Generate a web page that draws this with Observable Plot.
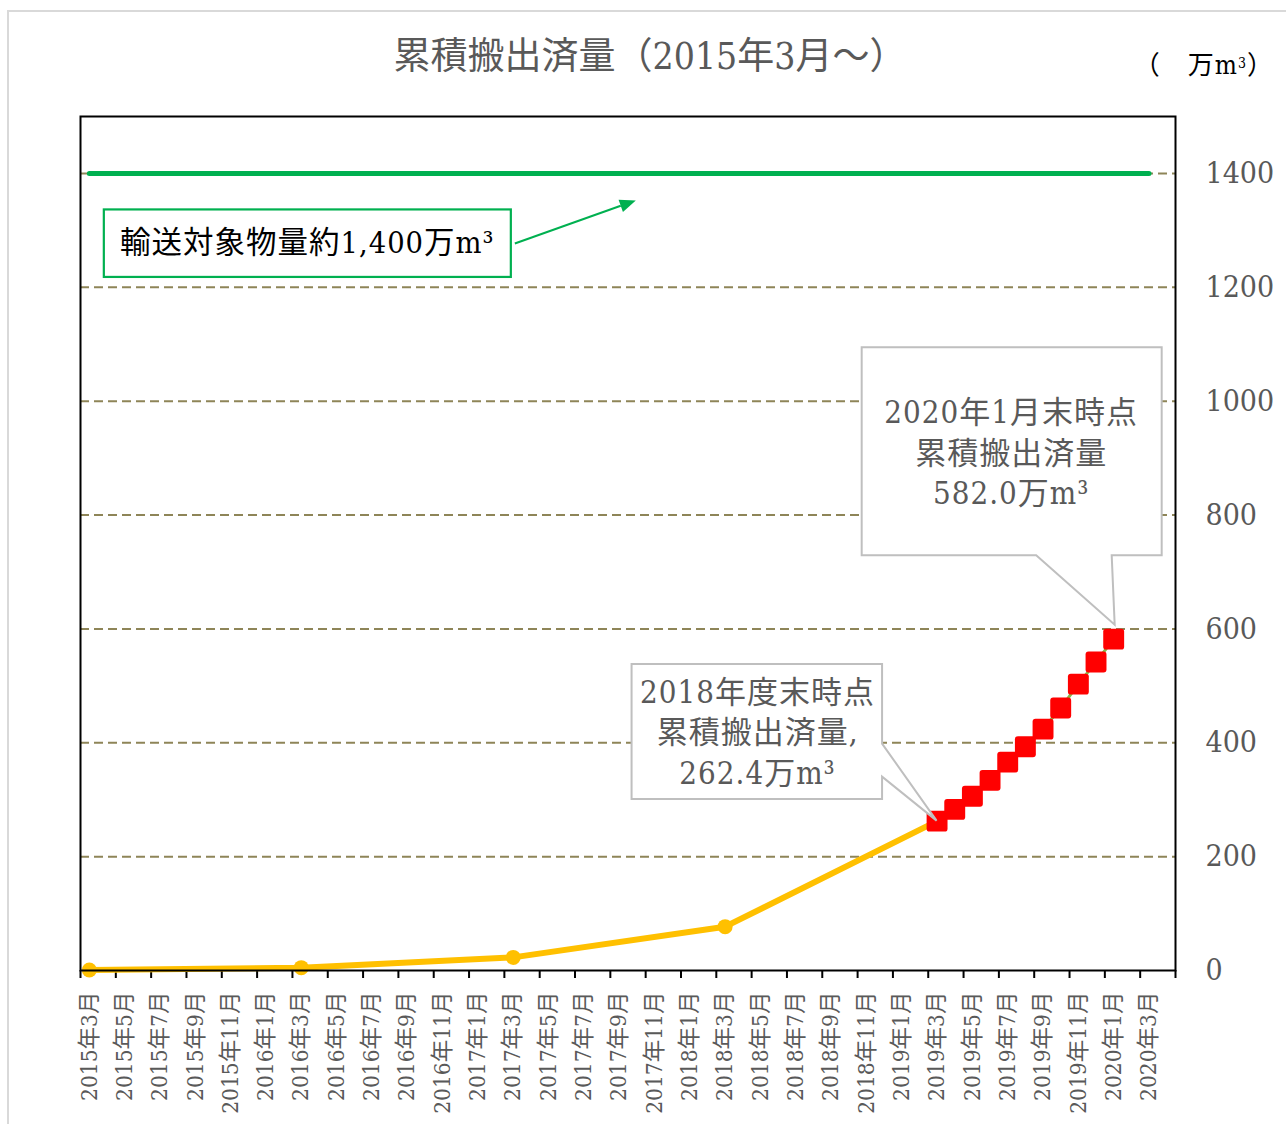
<!DOCTYPE html>
<html><head><meta charset="utf-8">
<script src="https://cdn.jsdelivr.net/npm/d3@7"></script>
<script src="https://cdn.jsdelivr.net/npm/@observablehq/plot@0.6"></script>
<style>
body{margin:0;background:#fff;}
#wrap{position:relative;width:1286px;height:1124px;overflow:hidden;background:#fff;
  font-family:"DejaVu Serif Condensed","DejaVu Serif","Noto Sans CJK JP",serif;}
#border{position:absolute;left:7px;top:10px;width:1400px;height:1300px;border:2px solid #d9d9d9;}
#chart{position:absolute;left:0;top:0;}
#title{position:absolute;left:10px;width:1280px;top:35px;text-align:center;font-size:37px;line-height:44px;color:#595959;}
#unit{position:absolute;right:12px;top:50px;font-size:26px;line-height:30px;color:#000;letter-spacing:1px;}
#unit sup{font-size:14px;vertical-align:top;position:relative;top:-2px;}
</style></head>
<body>
<div id="wrap">
  <div id="border"></div>
  <div id="chart"></div>
  <div id="title">累積搬出済量（2015年3月～）</div>
  <div id="unit">（　万m<sup>3</sup>）</div>
</div>
<script>
// ---- data ----
const xLabels = [
  "2015年3月","2015年5月","2015年7月","2015年9月","2015年11月",
  "2016年1月","2016年3月","2016年5月","2016年7月","2016年9月","2016年11月",
  "2017年1月","2017年3月","2017年5月","2017年7月","2017年9月","2017年11月",
  "2018年1月","2018年3月","2018年5月","2018年7月","2018年9月","2018年11月",
  "2019年1月","2019年3月","2019年5月","2019年7月","2019年9月","2019年11月",
  "2020年1月","2020年3月"
];
const xRange = ["2015年3月", "2020年4月"];
const yTicks = [0, 200, 400, 600, 800, 1000, 1200, 1400];
const yMax = 1500;

const annualMonths = ["2015年3月","2016年3月","2017年3月","2018年3月","2019年3月"];
const annualValues = [1, 5, 23, 77, 262.4];

const monthlyMonths = ["2019年3月","2019年4月","2019年5月","2019年6月","2019年7月","2019年8月",
  "2019年9月","2019年10月","2019年11月","2019年12月","2020年1月"];
const monthlyValues = [262.4, 283, 306, 334, 366, 393, 424, 461, 503, 542, 582.0];

const targetMonths = ["2015年3月", "2020年3月"];
const targetValue = 1400;

const targetNote = "輸送対象物量約1,400万m³";
const noteFY2018 = ["2018年度末時点", "累積搬出済量,", "262.4万m³"];
const noteJan2020 = ["2020年1月末時点", "累積搬出済量", "582.0万m³"];

// ---- helpers ----
function monthIndex(label) {
  const m = label.match(/(\d+)年(\d+)月/);
  return (+m[1] - 2015) * 12 + (+m[2] - 3);
}
const annual = annualMonths.map((m, k) => ({i: monthIndex(m), v: annualValues[k]}));
const monthly = monthlyMonths.map((m, k) => ({i: monthIndex(m), v: monthlyValues[k]}));
const target = targetMonths.map(m => ({i: monthIndex(m), v: targetValue}));
const labelTicks = xLabels.map(monthIndex);
const boundaryTicks = labelTicks.map(i => i - 0.5).concat([monthIndex(xRange[1]) + 0.5]);
const gridValues = yTicks.filter(v => v > 0);

const roundedSquare = {
  draw(context, size) {
    const s = Math.sqrt(size) / 2, r = s * 0.28;
    context.moveTo(-s + r, -s);
    context.arcTo(s, -s, s, s, r);
    context.arcTo(s, s, -s, s, r);
    context.arcTo(-s, s, -s, -s, r);
    context.arcTo(-s, -s, s, -s, r);
    context.closePath();
  }
};

const FONT = '"DejaVu Serif Condensed","DejaVu Serif","Noto Sans CJK JP",serif';

const chart = Plot.plot({
  width: 1286,
  height: 1124,
  marginLeft: 80,
  marginRight: 111,
  marginTop: 116,
  marginBottom: 154,
  style: {fontFamily: FONT, background: "transparent"},
  x: {type: "linear", domain: [monthIndex(xRange[0]) - 0.5, monthIndex(xRange[1]) + 0.5]},
  y: {type: "linear", domain: [0, yMax]},
  marks: [
    Plot.ruleY(gridValues, {stroke: "#8E8558", strokeWidth: 2, strokeDasharray: "9,5"}),
    Plot.axisY(yTicks, {anchor: "right", tickSize: 0, tickPadding: 30, fontSize: 30,
      fill: "#595959", label: null, tickFormat: d => String(d)}),
    Plot.axisX(boundaryTicks, {anchor: "bottom", tickSize: 8, stroke: "black", strokeWidth: 2,
      tickFormat: () => "", label: null}),
    Plot.axisX(labelTicks, {anchor: "bottom", tickSize: 0, tickPadding: 21, tickRotate: -90,
      fontSize: 22.5, fill: "#595959", tickFormat: i => xLabels[labelTicks.indexOf(i)], label: null}),
    Plot.line(target, {x: "i", y: "v", stroke: "#00B050", strokeWidth: 5, strokeLinecap: "round"}),
    Plot.line(annual, {x: "i", y: "v", stroke: "#FFC000", strokeWidth: 6}),
    Plot.dot(annual, {x: "i", y: "v", r: 7.5, fill: "#FFC000"}),
    Plot.line(monthly, {x: "i", y: "v", stroke: "#86B84A", strokeWidth: 3}),
    Plot.dot(monthly, {x: "i", y: "v", r: 11.8, symbol: roundedSquare, fill: "#FF0000"}),
    Plot.frame({stroke: "black", strokeWidth: 2})
  ]
});
document.getElementById("chart").appendChild(chart);

// ---- annotations (anchored to data points through the scales) ----
const sx = chart.scale("x"), sy = chart.scale("y");
const svg = d3.select(chart);
const ann = svg.append("g");

function calloutText(g, cx, ys, lines, size, color, spacing) {
  lines.forEach((t, k) => {
    g.append("text").attr("x", cx).attr("y", ys[k])
      .attr("text-anchor", "middle").attr("dominant-baseline", "central")
      .attr("font-size", size).attr("fill", color).attr("font-family", FONT)
      .attr("letter-spacing", spacing || 0)
      .text(t);
  });
}

// Callout: 2018 fiscal year end
{
  const p = annual[annual.length - 1];
  const ax = sx.apply(p.i), ay = sy.apply(p.v);
  const x1 = ax - 305, x2 = ax - 54.5, y1 = ay - 156.5, y2 = ay - 21.5;
  const t1 = ay - 77, t2 = ay - 44;
  const path = `M${x1},${y1}H${x2}V${t1}L${ax},${ay}L${x2},${t2}V${y2}H${x1}Z`;
  ann.append("path").attr("d", path).attr("fill", "white").attr("stroke", "#BFBFBF").attr("stroke-width", 2);
  calloutText(ann, ax - 179, [ay - 129, ay - 88.5, ay - 47.5], noteFY2018, 31, "#595959", 1);
}
// Callout: Jan 2020
{
  const p = monthly[monthly.length - 1];
  const ax = sx.apply(p.i), ay = sy.apply(p.v);
  const x1 = ax - 251.5, x2 = ax + 48.5, y1 = ay - 291.5, y2 = ay - 83.5;
  const b1 = ax - 77, b2 = ax - 1.5, tx = ax + 1.5, ty = ay - 14;
  const path = `M${x1},${y1}H${x2}V${y2}H${b2}L${tx},${ty}L${b1},${y2}H${x1}Z`;
  ann.append("path").attr("d", path).attr("fill", "white").attr("stroke", "#BFBFBF").attr("stroke-width", 2);
  calloutText(ann, ax - 102, [ay - 227, ay - 185.5, ay - 145.5], noteJan2020, 31, "#595959", 1);
}
// Target note box + arrow
{
  const ax = sx.apply(target[0].i), ay = sy.apply(target[0].v);
  const x1 = ax + 15, x2 = ax + 422, y1 = ay + 36.5, y2 = ay + 104;
  ann.append("rect").attr("x", x1).attr("y", y1).attr("width", x2 - x1).attr("height", y2 - y1)
    .attr("fill", "white").attr("stroke", "#00B050").attr("stroke-width", 2.2);
  calloutText(ann, (x1 + x2) / 2, [ay + 70], [targetNote], 30.5, "#000", 1);
  const sxp = x2 + 4, syp = ay + 70.5, exp = ax + 547, eyp = ay + 27.5;
  const ang = Math.atan2(eyp - syp, exp - sxp), L = 16, W = 6.5;
  const bx = exp - L * Math.cos(ang), by = eyp - L * Math.sin(ang);
  ann.append("line").attr("x1", sxp).attr("y1", syp).attr("x2", bx).attr("y2", by)
    .attr("stroke", "#00B050").attr("stroke-width", 2);
  ann.append("path").attr("d",
    `M${exp},${eyp}L${bx - W * Math.sin(ang)},${by + W * Math.cos(ang)}L${bx + W * Math.sin(ang)},${by - W * Math.cos(ang)}Z`)
    .attr("fill", "#00B050");
}
</script>
</body></html>
